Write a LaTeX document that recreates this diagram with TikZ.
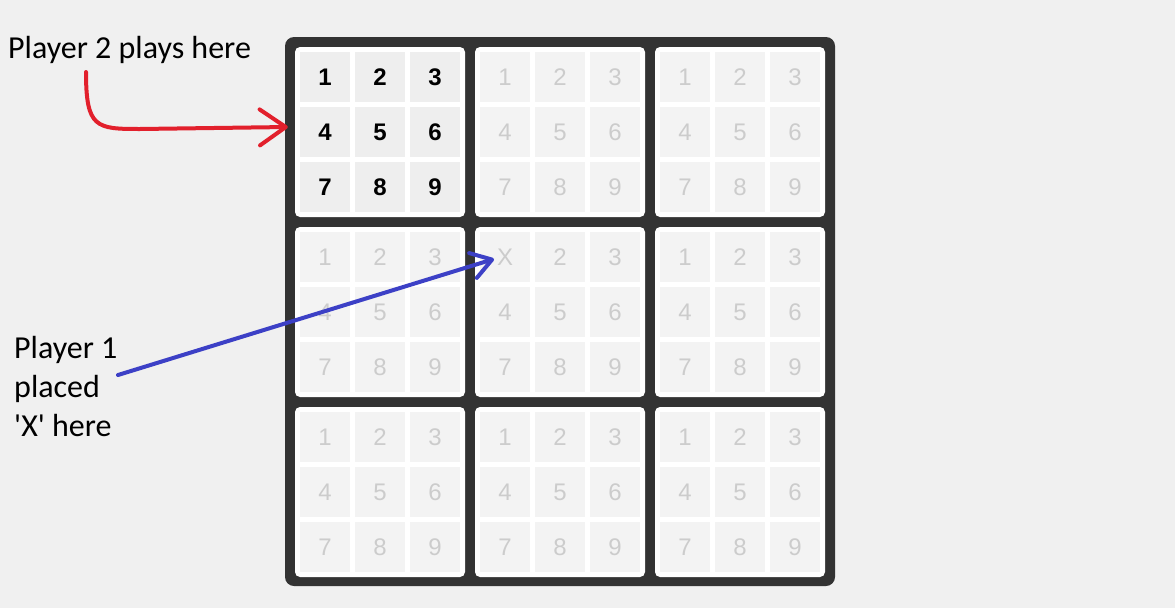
\documentclass[tikz,border=0pt]{standalone}
\usepackage{fontspec}
\setmainfont{Liberation Sans}
\newfontfamily\notefont{Carlito}
\usetikzlibrary{positioning, arrows.meta, calc}
\definecolor{bgcol}{HTML}{F0F0F0}
\definecolor{framecol}{HTML}{333333}
\definecolor{oncell}{HTML}{EEEEEE}
\definecolor{offcell}{HTML}{F3F3F3}
\definecolor{offtext}{HTML}{CCCCCC}
\definecolor{redink}{HTML}{E2202C}
\definecolor{blueink}{HTML}{3C40C6}
\tikzset{
  frame/.style={
    rectangle,
    rounded corners=9pt,
    fill=framecol,
    minimum width=550pt,
    minimum height=549pt
  },
  sub/.style={
    rectangle,
    rounded corners=5pt,
    fill=white,
    minimum width=170pt,
    minimum height=170pt
  },
  on/.style={
    rectangle,
    fill=oncell,
    minimum size=50pt,
    inner sep=0pt,
    font=\fontsize{24}{26}\selectfont\bfseries,
    text=black
  },
  off/.style={
    on,
    fill=offcell,
    font=\fontsize{24}{26}\selectfont,
    text=offtext
  },
  note/.style={
    font=\notefont\fontsize{32}{39}\selectfont,
    inner sep=0pt,
    align=left
  },
  redarrow/.style={
    draw=redink,
    line width=4pt,
    line cap=round,
    line join=round,
    -{Straight Barb[length=26pt, width=36pt, round]}
  },
  bluearrow/.style={
    draw=blueink,
    line width=4pt,
    line cap=round,
    line join=round,
    -{Straight Barb[length=20pt, width=26pt, round]}
  }
}

\begin{document}
\begin{tikzpicture}[x=1pt, y=-1pt]
\useasboundingbox[fill=bgcol] (0,0) rectangle (1175,608);

% board
\node[frame] (frame) at (560,311.5) {};

\foreach \b in {1,...,9} {
  \pgfmathtruncatemacro{\bc}{mod(\b-1,3)}
  \pgfmathtruncatemacro{\br}{div(\b-1,3)}
  \node[sub] (b\b) at ({380+180*\bc},{132+180*\br}) {};
  \foreach \n in {1,...,9} {
    \pgfmathtruncatemacro{\nc}{mod(\n-1,3)}
    \pgfmathtruncatemacro{\nr}{div(\n-1,3)}
    \ifnum\b=1 \def\st{on}\else\def\st{off}\fi
    \def\lbl{\n}
    \ifnum\b=5 \ifnum\n=1 \def\lbl{X}\fi\fi
    \node[\st] (b\b-\n) at ($(b\b)+({55*(\nc-1)},{55*(\nr-1)})$) {\lbl};
  }
}

% notes
\node[note, anchor=base west] (p2note) at (8,58) {Player 2 plays here};
\node[note, anchor=base west] (p1note) at (14,436)
  {Player 1\\placed\\\textquotesingle X\textquotesingle{} here};

% arrows
\coordinate (p2tail) at (86,72);
\coordinate (p2tip) at ($(b1-4.west)+(-12,-5)$);
\draw[redarrow] (p2tail) .. controls (86,128) and (96,129) .. (140,129) -- (p2tip);

\coordinate (p1tail) at (118,375);
\coordinate (p1tip) at ($(b5-1.center)+(-11,2)$);
\draw[bluearrow] (p1tail) -- (p1tip);
\end{tikzpicture}
\end{document}
